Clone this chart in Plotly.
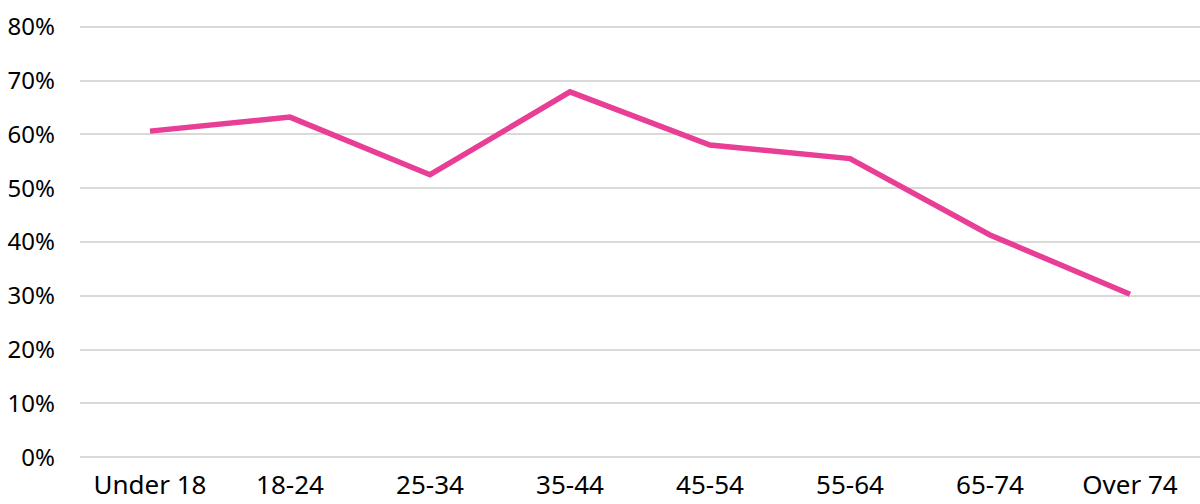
import plotly.graph_objects as go

age_groups = ["Under 18", "18-24", "25-34", "35-44", "45-54", "55-64", "65-74", "Over 74"]
share = [0.606, 0.632, 0.525, 0.679, 0.580, 0.555, 0.413, 0.303]
y_ticks = [0.0, 0.1, 0.2, 0.3, 0.4, 0.5, 0.6, 0.7, 0.8]

fig = go.Figure(
    go.Scatter(
        x=age_groups,
        y=share,
        mode="lines",
        line=dict(color="#E83E96", width=5.5),
        hoverinfo="x+y",
    )
)

font_family = "Noto Sans, DejaVu Sans, sans-serif"

fig.update_layout(
    width=1200,
    height=504,
    margin=dict(l=80, r=0, t=24, b=44),
    paper_bgcolor="white",
    plot_bgcolor="white",
    showlegend=False,
    font=dict(family=font_family, size=25, color="#000000"),
)

fig.update_xaxes(
    type="category",
    range=[-0.5, 7.5],
    showgrid=False,
    showline=False,
    ticks="",
    automargin=False,
    ticklabelstandoff=7,
    tickfont=dict(size=26),
)

fig.update_yaxes(
    range=[-0.005, 0.805],
    tickvals=y_ticks,
    tickformat=".0%",
    showgrid=True,
    gridcolor="#D9D9D9",
    gridwidth=1.5,
    zeroline=False,
    showline=False,
    ticks="",
    automargin=False,
    ticklabelstandoff=24,
    tickfont=dict(size=24),
)

fig.write_html("out.html")
